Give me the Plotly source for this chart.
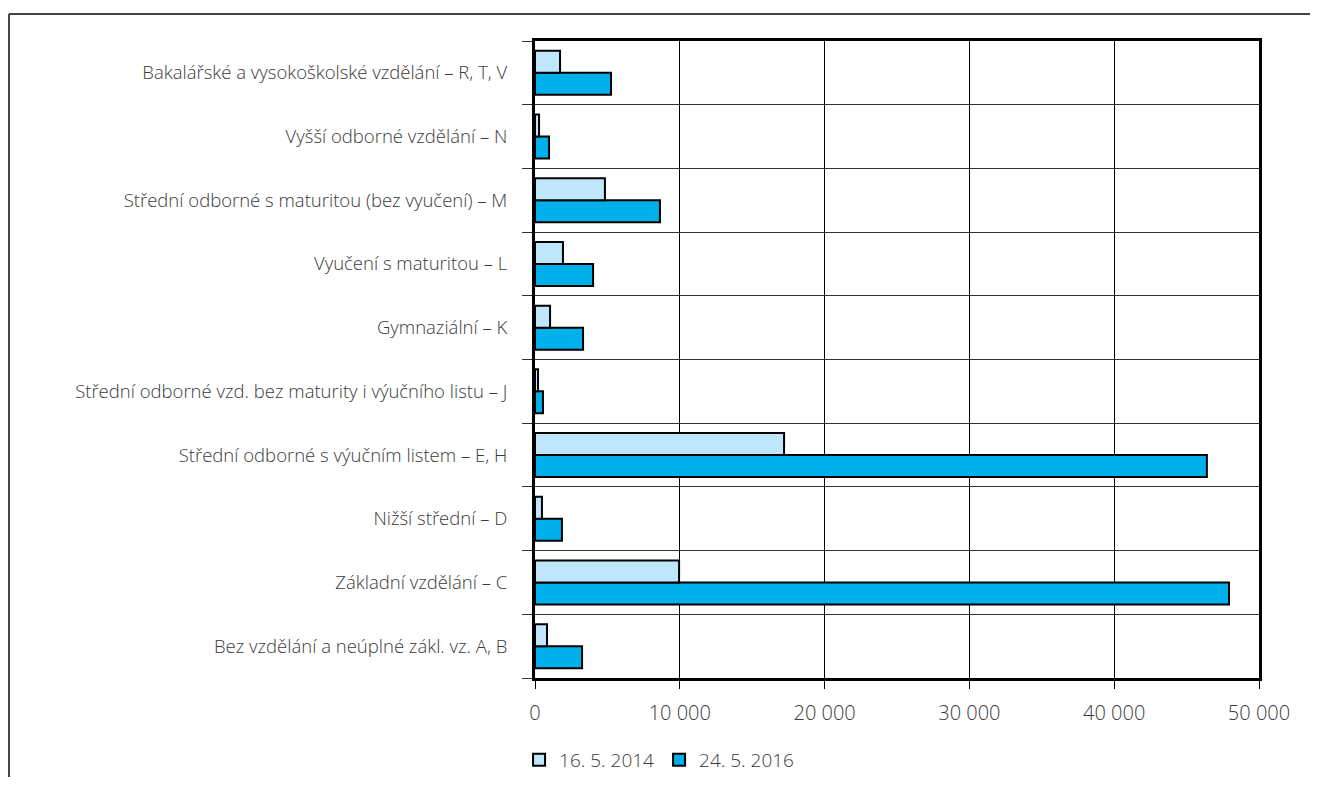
import plotly.graph_objects as go

# categories, bottom to top
categories = [
    "Bez vzdělání a neúplné zákl. vz. A, B",
    "Základní vzdělání – C",
    "Nižší střední – D",
    "Střední odborné s výučním listem – E, H",
    "Střední odborné vzd. bez maturity i výučního listu – J",
    "Gymnaziální – K",
    "Vyučení s maturitou – L",
    "Střední odborné s maturitou (bez vyučení) – M",
    "Vyšší odborné vzdělání – N",
    "Bakalářské a vysokoškolské vzdělání – R, T, V",
]
values_2014 = [830, 9950, 480, 17200, 210, 1040, 1930, 4830, 280, 1730]
values_2016 = [3250, 47930, 1860, 46400, 550, 3320, 4010, 8630, 970, 5250]
x_ticks = [0, 10000, 20000, 30000, 40000, 50000]

# the page keeps its 8px body margin, so the figure starts at (8, 8)
W, H = 1302, 769
L, R, T, B = 527, 51, 33, 99
pw, ph = W - L - R, H - T - B

fig = go.Figure()

# 2016 first so it sits below 2014 inside each group
fig.add_trace(go.Bar(
    y=categories, x=values_2016, orientation="h", name="24. 5. 2016",
    marker=dict(color="#00B0EA", line=dict(color="black", width=2)),
    legendrank=2,
))
fig.add_trace(go.Bar(
    y=categories, x=values_2014, orientation="h", name="16. 5. 2014",
    marker=dict(color="#BFE6FA", line=dict(color="black", width=2)),
    legendrank=1,
))

# outer frame (top and left edges)
fx = (1 - L) / pw
fy = (H - B - 6) / ph
fig.add_shape(type="line", xref="paper", yref="paper", x0=fx, x1=(W - L) / pw, y0=fy, y1=fy,
              line=dict(color="#444", width=2))
fig.add_shape(type="line", xref="paper", yref="paper", x0=fx, x1=fx, y0=fy, y1=-B / ph,
              line=dict(color="#444", width=2))

fig.update_layout(
    width=W, height=H,
    margin=dict(l=L, r=R, t=T, b=B, autoexpand=False),
    paper_bgcolor="white", plot_bgcolor="white",
    barmode="group", bargap=0.31, bargroupgap=0,
    separators=", ",
    font=dict(family="'Open Sans', sans-serif", size=18.5, color="#3a3a3a", weight=300),
    xaxis=dict(
        range=[0, 50000], tickvals=x_ticks, tickformat=",d",
        showgrid=True, gridcolor="black", gridwidth=1,
        showline=True, linecolor="black", linewidth=3, mirror=True,
        ticks="outside", ticklen=8, tickcolor="black", tickwidth=1,
        ticklabelstandoff=7, tickfont=dict(size=20),
        zeroline=False, fixedrange=True, automargin=False,
    ),
    yaxis=dict(
        type="category", tickson="boundaries",
        showgrid=True, gridcolor="#333", gridwidth=1,
        showline=True, linecolor="black", linewidth=3, mirror=True,
        ticks="outside", ticklen=10, tickcolor="#333", tickwidth=1,
        ticklabelstandoff=21, fixedrange=True, automargin=False,
    ),
    legend=dict(orientation="h", x=-0.022, xanchor="left",
                yref="container", y=(H - 752) / H, yanchor="middle",
                font=dict(size=19), itemwidth=30, traceorder="normal"),
    showlegend=True,
)

fig.write_html("out.html", config={"displayModeBar": False})
